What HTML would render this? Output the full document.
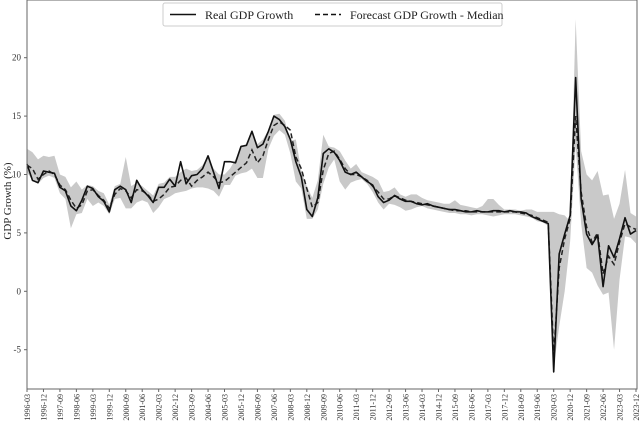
<!DOCTYPE html>
<html><head><meta charset="utf-8"><style>
html,body{margin:0;padding:0;background:#fff;}
svg{display:block;font-family:"Liberation Serif",serif;}
</style></head><body>
<svg id="chart" width="640" height="422" viewBox="0 0 640 422" xmlns="http://www.w3.org/2000/svg">
<g id="band"></g>
<g id="lines"></g>
<g id="axes"></g>
<text transform="translate(11,201) rotate(-90)" text-anchor="middle" font-size="11" fill="#222">GDP Growth (%)</text>
<g>
<rect x="163" y="3" width="339" height="23" fill="#fff" stroke="#ccc" stroke-width="1" rx="2"/>
<line x1="170" y1="14.5" x2="196" y2="14.5" stroke="#111" stroke-width="1.6"/>
<text x="205" y="19" font-size="12" fill="#222">Real GDP Growth</text>
<line x1="315" y1="14.5" x2="341" y2="14.5" stroke="#111" stroke-width="1.6" stroke-dasharray="5,3"/>
<text x="350" y="19" font-size="12" fill="#222">Forecast GDP Growth - Median</text>
</g>
</svg>
<script>
const realGDP=[10.9,9.5,9.3,10.3, 10.2,10.1,8.9,8.6, 7.3,6.9,7.8,9.0, 8.8,8.1,7.7,6.8,
8.7,9.0,8.7,7.6, 9.5,8.7,8.2,7.6, 8.9,8.9,9.6,9.0, 11.1,9.2,9.9,10.0,
10.5,11.6,10.2,8.8, 11.1,11.1,11.0,12.4, 12.5,13.7,12.3,12.6, 13.7,15.0,14.7,14.1,
13.0,11.1,9.8,7.0, 6.4,8.0,11.8,12.2, 11.9,11.2,10.2,10.0, 10.2,9.8,9.4,9.1,
8.1,7.6,7.8,8.2, 7.9,7.7,7.7,7.5, 7.4,7.5,7.3,7.2, 7.1,7.0,7.0,6.9,
6.8,6.8,6.9,6.8, 6.8,6.9,6.9,6.8, 6.9,6.8,6.8,6.7, 6.4,6.2,6.0,5.8,
-6.9,3.2,4.9,6.5, 18.3,7.9,4.9,4.0, 4.8,0.4,3.9,2.9, 4.5,6.3,4.9,5.2];
const forecastMedian=[10.8,10.5,9.6,10.0, 10.3,10.0,9.1,8.7, 7.8,7.1,7.4,8.6, 8.7,8.2,7.8,7.1,
8.3,8.8,8.6,8.0, 8.7,8.6,8.3,7.7, 7.9,8.3,8.9,9.0, 9.5,9.7,9.0,9.5,
9.8,10.2,9.8,9.3, 9.4,9.8,10.2,10.6, 11.0,12.1,11.0,11.6, 13.0,14.2,14.5,14.2,
13.8,11.5,10.5,8.8, 7.2,7.6,10.4,11.8, 12.0,11.3,10.5,10.0, 10.0,9.8,9.5,9.0,
8.5,7.9,7.9,8.2, 8.0,7.8,7.7,7.6, 7.5,7.4,7.3,7.2, 7.1,7.0,6.9,6.9,
6.9,6.8,6.8,6.8, 6.8,6.8,6.8,6.8, 6.8,6.8,6.7,6.6, 6.5,6.3,6.1,5.9,
-5.5,2.0,4.5,6.2, 15.0,8.5,5.5,4.2, 5.0,1.5,3.0,2.3, 4.2,5.8,5.5,5.3];
const forecastHigh=[12.2,11.9,11.3,11.6, 11.5,11.6,10.0,9.8, 8.9,9.4,8.7,9.1, 9.0,8.6,8.4,7.4,
9.0,9.2,11.5,9.0, 9.3,9.0,8.6,8.2, 9.2,9.3,9.8,9.8, 10.2,10.5,10.3,10.4,
10.8,11.6,10.5,10.0, 10.0,10.5,11.3,12.5, 12.5,13.7,12.6,13.0, 13.8,15.1,15.2,14.6,
12.9,13.0,10.3,9.0, 8.0,9.5,13.4,12.4, 12.3,12.0,11.2,10.5, 10.9,10.2,10.0,9.8,
9.5,8.5,8.6,8.9, 8.3,8.1,8.3,8.3, 8.0,7.8,7.7,7.6, 7.5,7.5,7.8,7.4,
7.3,7.2,7.1,7.3, 7.9,7.9,7.4,7.0, 7.0,7.0,6.9,7.0, 7.0,6.8,6.8,6.8,
6.8,6.6,6.5,6.0, 23.3,12.0,10.0,9.5, 10.3,8.2,8.3,6.2, 7.5,10.4,6.7,6.4];
const forecastLow=[10.2,9.5,9.2,9.7, 9.9,9.7,8.4,7.9, 5.4,6.6,6.7,7.9, 7.3,7.6,7.3,6.6,
7.9,8.0,7.1,7.1, 7.6,7.8,7.6,6.7, 7.2,7.9,8.1,8.4, 8.5,8.6,8.8,8.9,
8.9,8.8,8.6,8.1, 9.1,9.1,9.9,10.1, 10.2,10.5,9.7,9.7, 12.2,13.3,13.8,13.4,
11.8,9.4,8.8,6.2, 6.2,7.0,9.2,10.6, 11.3,9.4,8.7,9.3, 9.5,9.6,9.2,8.5,
7.6,7.0,7.5,7.4, 7.2,6.9,7.0,7.2, 7.3,7.1,7.0,6.9, 6.8,6.7,6.7,6.6,
6.6,6.5,6.6,6.6, 6.5,6.4,6.5,6.6, 6.6,6.6,6.5,6.4, 6.3,6.0,5.9,5.6,
-6.5,-3.0,0.0,4.3, 12.5,5.8,2.0,1.6, 0.5,-0.3,-0.1,-5.0, 1.0,4.7,4.6,4.1];
const yTicks=[-5,0,5,10,15,20];
const startYear=1996;

const NS="http://www.w3.org/2000/svg";
const L=27,R=636,T=0,B=389;
const X0=27,XSTEP=(636-27)/111;
const Y0=291.3,YSCALE=11.68;
function xs(i){return X0+i*XSTEP;}
function ys(v){return Y0-v*YSCALE;}
function mk(tag,attrs,parent){const e=document.createElementNS(NS,tag);for(const k in attrs)e.setAttribute(k,attrs[k]);parent.appendChild(e);return e;}

const n=realGDP.length;
// band
let d="M"+xs(0)+","+ys(forecastHigh[0]);
for(let i=1;i<n;i++)d+="L"+xs(i).toFixed(2)+","+ys(forecastHigh[i]).toFixed(2);
for(let i=n-1;i>=0;i--)d+="L"+xs(i).toFixed(2)+","+ys(forecastLow[i]).toFixed(2);
d+="Z";
const band=mk("path",{d:d,fill:"#c9c9c9",stroke:"none"},document.getElementById("band"));



function linePath(arr){let s="";arr.forEach((v,i)=>{s+=(i?"L":"M")+xs(i).toFixed(2)+","+ys(v).toFixed(2);});return s;}
const lines=document.getElementById("lines");
const fl=mk("path",{d:linePath(forecastMedian),fill:"none",stroke:"#222",'stroke-width':1.5,'stroke-dasharray':"5,3"},lines);


const rl=mk("path",{d:linePath(realGDP),fill:"none",stroke:"#111",'stroke-width':1.6,'stroke-linejoin':"round"},lines);



const axes=document.getElementById("axes");
const frame=mk("rect",{x:L,y:T,width:R-L+1,height:B-T,fill:"none",stroke:"#666",'stroke-width':1},axes);


yTicks.forEach(v=>{
  mk("line",{x1:L-3,x2:L,y1:ys(v),y2:ys(v),stroke:"#666"},axes);
  const t=mk("text",{x:L-6,y:ys(v)+3,'text-anchor':"end",'font-size':9,fill:"#333"},axes);
  t.textContent=String(v).replace("-","-");
  
  
});
const months=["03","06","09","12"];
for(let i=0;i<n;i+=3){
  const x=xs(i);
  mk("line",{x1:x,x2:x,y1:B,y2:B+3,stroke:"#666"},axes);
  const lab=(startYear+Math.floor(i/4))+"-"+months[i%4];
  const t=mk("text",{transform:"translate("+(x+3)+","+(B+5)+") rotate(-90)",'text-anchor':"end",'font-size':8,fill:"#333"},axes);
  t.textContent=lab;
  
  
}
</script>
</body></html>
